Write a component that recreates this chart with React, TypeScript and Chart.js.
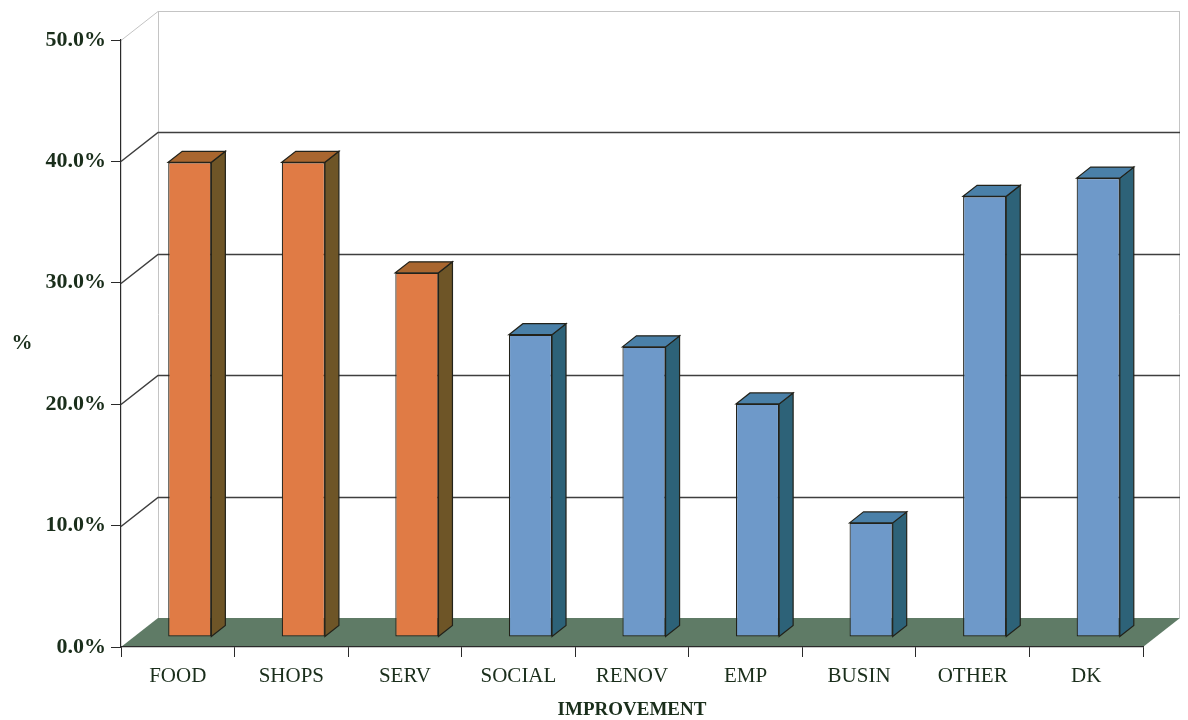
import React, { useEffect, useRef } from "react";
import { Chart, registerables } from "chart.js";

Chart.register(...registerables);

// Share of respondents naming each improvement
const categories = ["FOOD", "SHOPS", "SERV", "SOCIAL", "RENOV", "EMP", "BUSIN", "OTHER", "DK"];
const shares = [39.1, 39.1, 30.0, 24.9, 23.9, 19.2, 9.4, 36.3, 37.8];
const highlightedCount = 3; // leading categories drawn in orange

const yMin = 0;
const yMax = 50;
const yStep = 10;

// Oblique projection used for the pseudo-3D look
const DEPTH = { x: 37, y: -29 };
const BAR_SHIFT = { x: 12, y: -10 };
const BAR_DEPTH = { x: 14, y: -11 };

const SERIF = "'Liberation Serif', 'Times New Roman', serif";
const TEXT = "#1a2e1b";
const FLOOR = "#5f7b66";
const GRID_DARK = "#3e3e3e";
const GRID_LIGHT = "#c4c4c4";
const OUTLINE = "#22221a";

const ORANGE = { front: "#e07b45", side: "#6e5527", top: "#a9662f" };
const BLUE = { front: "#6e99c9", side: "#2d6278", top: "#4a80a8" };

const paletteFor = (i: number) => (i < highlightedCount ? ORANGE : BLUE);

const wallsPlugin = {
  id: "walls",
  beforeDraw(chart: any) {
    const { ctx, chartArea: a, scales } = chart;
    const ys = scales.y;
    ctx.save();
    ctx.fillStyle = "#ffffff";
    ctx.fillRect(0, 0, chart.width, chart.height);

    const base = ys.getPixelForValue(yMin);
    const top = ys.getPixelForValue(yMax);

    // floor
    ctx.fillStyle = FLOOR;
    ctx.beginPath();
    ctx.moveTo(a.left, base);
    ctx.lineTo(a.right, base);
    ctx.lineTo(a.right + DEPTH.x, base + DEPTH.y);
    ctx.lineTo(a.left + DEPTH.x, base + DEPTH.y);
    ctx.closePath();
    ctx.fill();

    // back wall outline
    ctx.strokeStyle = GRID_LIGHT;
    ctx.lineWidth = 1;
    ctx.beginPath();
    ctx.moveTo(a.left + DEPTH.x + 0.5, base + DEPTH.y);
    ctx.lineTo(a.left + DEPTH.x + 0.5, top + DEPTH.y);
    ctx.moveTo(a.right + DEPTH.x - 0.5, base + DEPTH.y);
    ctx.lineTo(a.right + DEPTH.x - 0.5, top + DEPTH.y);
    ctx.stroke();

    // gridlines: side wall diagonal + back wall horizontal
    ys.ticks.forEach((t: any) => {
      if (t.value === yMin) return;
      const py = Math.round(ys.getPixelForValue(t.value)) + 0.5;
      const isTop = t.value === yMax;
      ctx.strokeStyle = isTop ? GRID_LIGHT : GRID_DARK;
      ctx.lineWidth = isTop ? 1 : 1.5;
      ctx.beginPath();
      ctx.moveTo(a.left, py);
      ctx.lineTo(a.left + DEPTH.x, py + DEPTH.y);
      ctx.lineTo(a.right + DEPTH.x, py + DEPTH.y);
      ctx.stroke();
    });

    // value axis title
    ctx.fillStyle = TEXT;
    ctx.font = `bold 21px ${SERIF}`;
    ctx.textAlign = "center";
    ctx.textBaseline = "middle";
    ctx.fillText("%", 22, (a.top + a.bottom) / 2);
    ctx.restore();
  },
  beforeDatasetsDraw(chart: any) {
    chart.ctx.save();
    chart.ctx.translate(BAR_SHIFT.x, BAR_SHIFT.y);
  },
  afterDatasetsDraw(chart: any) {
    const { ctx } = chart;
    const meta = chart.getDatasetMeta(0);
    meta.data.forEach((bar: any, i: number) => {
      const { x, y, base, width } = bar.getProps(["x", "y", "base", "width"], true);
      const l = x - width / 2;
      const r = x + width / 2;
      const pal = paletteFor(i);
      ctx.lineWidth = 1.2;
      ctx.strokeStyle = OUTLINE;
      // side face
      ctx.fillStyle = pal.side;
      ctx.beginPath();
      ctx.moveTo(r, y);
      ctx.lineTo(r + BAR_DEPTH.x, y + BAR_DEPTH.y);
      ctx.lineTo(r + BAR_DEPTH.x, base + BAR_DEPTH.y);
      ctx.lineTo(r, base);
      ctx.closePath();
      ctx.fill();
      ctx.stroke();
      // top face
      ctx.fillStyle = pal.top;
      ctx.beginPath();
      ctx.moveTo(l, y);
      ctx.lineTo(l + BAR_DEPTH.x, y + BAR_DEPTH.y);
      ctx.lineTo(r + BAR_DEPTH.x, y + BAR_DEPTH.y);
      ctx.lineTo(r, y);
      ctx.closePath();
      ctx.fill();
      ctx.stroke();
    });
    ctx.restore();
  },
};

export default function App() {
  const canvasRef = useRef<HTMLCanvasElement | null>(null);

  useEffect(() => {
    const canvas = canvasRef.current;
    if (!canvas) return;
    const chart = new Chart(canvas, {
      type: "bar",
      data: {
        labels: categories,
        datasets: [
          {
            label: "%",
            data: shares,
            backgroundColor: shares.map((_, i) => paletteFor(i).front),
            borderColor: OUTLINE,
            borderWidth: 1.2,
            borderSkipped: false,
            categoryPercentage: 1,
            barPercentage: 0.38,
            clip: false as any,
          },
        ],
      },
      options: {
        responsive: false,
        animation: false,
        layout: { padding: { top: 40, right: 45, left: 0, bottom: 0 } },
        plugins: {
          legend: { display: false },
          tooltip: { enabled: false },
        },
        scales: {
          x: {
            offset: true,
            grid: {
              offset: true,
              drawOnChartArea: false,
              drawTicks: true,
              tickLength: 10,
              color: "#2a2a2a",
            },
            border: { display: true, color: "#2a2a2a", width: 1.2 },
            ticks: {
              color: TEXT,
              padding: 7,
              maxRotation: 0,
              autoSkip: false,
              font: { family: SERIF, size: 21 },
            },
            title: {
              display: true,
              text: "IMPROVEMENT",
              color: TEXT,
              padding: { top: 0, bottom: 0 },
              font: { family: SERIF, size: 19, weight: "bold", lineHeight: 1.0 },
            },
            afterFit: (s: any) => {
              s.height = 73;
            },
          },
          y: {
            min: yMin,
            max: yMax,
            grid: {
              drawOnChartArea: false,
              drawTicks: true,
              tickLength: 10,
              color: "#2a2a2a",
            },
            border: { display: true, color: "#2a2a2a", width: 1.2 },
            ticks: {
              stepSize: yStep,
              color: TEXT,
              padding: 5,
              font: { family: SERIF, size: 22, weight: "bold" },
              callback: (v: any) => Number(v).toFixed(1) + "%",
            },
            afterFit: (s: any) => {
              s.width = 121;
            },
          },
        },
      },
      plugins: [wallsPlugin],
    });
    return () => chart.destroy();
  }, []);

  return (
    <div style={{ position: "fixed", left: 0, top: 0, width: 1188, height: 720, background: "#fff" }}>
      <canvas ref={canvasRef} width={1188} height={720} style={{ display: "block" }} />
    </div>
  );
}
